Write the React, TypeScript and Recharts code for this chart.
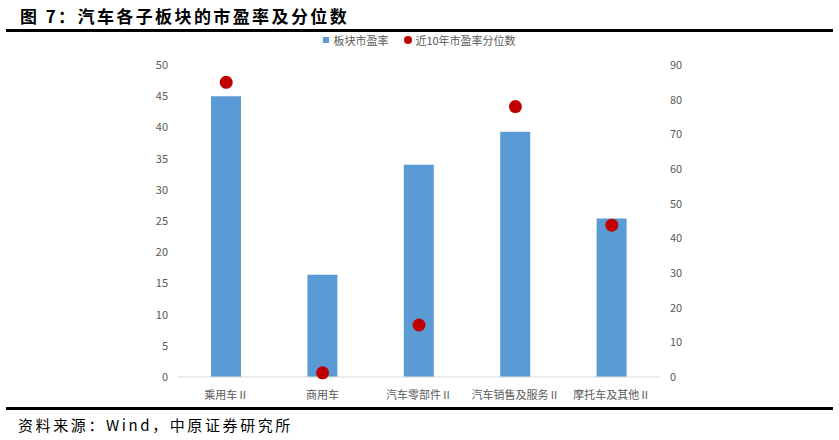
import { ComposedChart, Bar, Scatter, XAxis, YAxis } from 'recharts';

const categories = ['乘用车Ⅱ', '商用车', '汽车零部件Ⅱ', '汽车销售及服务Ⅱ', '摩托车及其他Ⅱ'];
const peValues = [45.0, 16.4, 34.0, 39.3, 25.4];
const pctValues = [85, 1.2, 15, 78, 43.8];
const leftTicks = [0, 5, 10, 15, 20, 25, 30, 35, 40, 45, 50];
const rightTicks = [0, 10, 20, 30, 40, 50, 60, 70, 80, 90];

const data = categories.map((name, i) => ({ name, pe: peValues[i], pct: pctValues[i] }));

const BAR_COLOR = '#5B9BD5';
const DOT_COLOR = '#C00000';
const FONT = '"Noto Sans CJK SC", "Noto Sans", sans-serif';

const tickStyle = { fontSize: 11, fill: '#595959', fontFamily: FONT };

export default function App() {
  return (
    <div style={{ position: 'fixed', left: 0, top: 0, width: 839, height: 440, background: '#fff', fontFamily: FONT }}>
      <div style={{ position: 'absolute', left: 20, top: 3, fontSize: 17, fontWeight: 'bold', letterSpacing: 2.4, color: '#000' }}>
        图 7：汽车各子板块的市盈率及分位数
      </div>
      <div style={{ position: 'absolute', left: 6, top: 29, width: 827, height: 3, background: '#000' }} />
      <div style={{ position: 'absolute', left: 0, top: 0 }}>
        <ComposedChart width={839} height={440} data={data} margin={{ top: 65, right: 149, bottom: 33, left: 148 }} barCategoryGap="34%">
          <XAxis
            dataKey="name"
            tick={tickStyle}
            tickLine={false}
            axisLine={{ stroke: '#d9d9d9' }}
            interval={0}
            tickMargin={8}
          />
          <YAxis
            yAxisId="left"
            domain={[0, 50]}
            ticks={leftTicks}
            tick={tickStyle}
            axisLine={false}
            tickLine={false}
            tickSize={0}
            tickMargin={10}
            width={30}
          />
          <YAxis
            yAxisId="right"
            orientation="right"
            domain={[0, 90]}
            ticks={rightTicks}
            tick={{ ...tickStyle, textAnchor: 'start' }}
            axisLine={false}
            tickLine={false}
            tickSize={0}
            tickMargin={10}
            width={30}
          />
          <Bar yAxisId="left" dataKey="pe" fill={BAR_COLOR} barSize={30} isAnimationActive={false} />
          <Scatter
            yAxisId="right"
            dataKey="pct"
            fill={DOT_COLOR}
            isAnimationActive={false}
            shape={(p: any) => <circle cx={p.cx} cy={p.cy} r={6.5} fill={DOT_COLOR} />}
          />
        </ComposedChart>
      </div>
      <div style={{ position: 'absolute', left: 0, top: 32, width: 839, display: 'flex', justifyContent: 'center', fontSize: 11, color: '#595959' }}>
        <span style={{ display: 'flex', alignItems: 'center', marginRight: 16 }}>
          <span style={{ width: 6, height: 6, background: BAR_COLOR, marginRight: 4 }} />
          板块市盈率
        </span>
        <span style={{ display: 'flex', alignItems: 'center' }}>
          <span style={{ width: 8, height: 8, borderRadius: 4, background: DOT_COLOR, marginRight: 3 }} />
          近10年市盈率分位数
        </span>
      </div>
      <div style={{ position: 'absolute', left: 6, top: 407, width: 827, height: 3, background: '#000' }} />
      <div style={{ position: 'absolute', left: 18, top: 414, fontSize: 15, letterSpacing: 2.6, color: '#000' }}>
        资料来源：Wind，中原证券研究所
      </div>
    </div>
  );
}
